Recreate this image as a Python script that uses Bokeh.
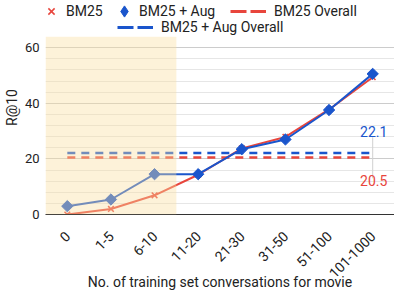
import math
from bokeh.plotting import figure
from bokeh.models import (FactorRange, Range1d, ColumnDataSource, BoxAnnotation,
                          Legend, LegendItem, FixedTicker)
from bokeh.core.properties import value
from bokeh.embed import file_html
from bokeh.resources import INLINE

# ---- data ----
categories = ["0", "1-5", "6-10", "11-20", "21-30", "31-50", "51-100", "101-1000"]
bm25 = [0.0, 2.0, 6.9, 14.3, 23.8, 27.9, 37.8, 49.4]
bm25_aug = [3.0, 5.4, 14.5, 14.5, 23.5, 27.0, 37.6, 50.6]
bm25_overall = 20.5
bm25_aug_overall = 22.1
shaded_categories = ["0", "1-5", "6-10"]
y_ticks = [0, 20, 40, 60]
y_minor_ticks = [4, 8, 12, 16, 24, 28, 32, 36, 44, 48, 52, 56]
y_max = 64

RED = "#e8453c"
BLUE = "#1a55cc"
FONT = "Roboto"
FIG_W, FIG_H = 394, 292
LEFT, BOTTOM = 44, 76
Y_TOP = 77            # extra room above the data area holds the legend
FB = FIG_H - BOTTOM   # frame bottom in screen px
px_per_unit = FB / Y_TOP

p = figure(width=FIG_W, height=FIG_H,
           x_range=FactorRange(*categories, range_padding=0),
           y_range=Range1d(0, Y_TOP),
           output_backend="svg", toolbar_location=None,
           min_border_top=0, min_border_left=LEFT, min_border_right=0,
           min_border_bottom=BOTTOM)
p.outline_line_color = None
p.background_fill_color = "white"

# grid
p.xgrid.grid_line_color = None
p.yaxis.ticker = FixedTicker(ticks=y_ticks, minor_ticks=y_minor_ticks)
p.yaxis.bounds = (0, y_max)
p.ygrid.grid_line_color = "#cccccc"
p.ygrid.minor_grid_line_color = "#e6e6e6"

# axes
for ax in (p.xaxis[0], p.yaxis[0]):
    ax.major_tick_line_color = None
    ax.minor_tick_line_color = None
    ax.major_label_text_font = FONT
    ax.major_label_text_font_size = "13px"
    ax.major_label_text_color = "#222222"
    ax.axis_label_text_font = FONT
    ax.axis_label_text_font_size = "14px"
    ax.axis_label_text_font_style = "normal"
    ax.axis_label_text_color = "#222222"
p.yaxis.axis_line_color = None
p.yaxis.axis_label = "R@10"
p.yaxis.major_label_standoff = 0
p.yaxis.axis_label_standoff = 2
p.xaxis.axis_line_color = "#333333"
p.xaxis.axis_label = "No. of training set conversations for movie"
p.xaxis.major_label_orientation = math.pi / 4
p.xaxis.major_label_text_font_size = "14px"
p.xaxis.major_label_standoff = 13
p.xaxis.axis_label_standoff = -12

src = ColumnDataSource(dict(cat=categories, bm25=bm25, aug=bm25_aug,
                            bm25_o=[bm25_overall] * len(categories),
                            aug_o=[bm25_aug_overall] * len(categories)))

# overall dashed lines
p.line("cat", "bm25_o", source=src, line_color=RED, line_width=2.5, line_dash="8 6")
p.line("cat", "aug_o", source=src, line_color=BLUE, line_width=2.5, line_dash="8 6")

# leader line and value labels at last category
last = categories[-1]
p.segment(x0=[last], x1=[last],
          y0=[bm25_aug_overall + 16 / px_per_unit],
          y1=[bm25_overall - 21 / px_per_unit],
          line_color="#d0d0d0", line_width=1)
lab = ColumnDataSource(dict(x=[last, last], y=[bm25_aug_overall, bm25_overall],
                            t=[f"{bm25_aug_overall:.1f}", f"{bm25_overall:.1f}"],
                            c=[BLUE, RED], yo=[-22, 23]))
p.text(x="x", y="y", text="t", text_color="c", y_offset="yo", x_offset=1, source=lab,
       text_align="center", text_baseline="middle",
       text_font=value(FONT), text_font_size="14px")

# series
p.line("cat", "bm25", source=src, line_color=RED, line_width=2)
r_b = p.scatter("cat", "bm25", source=src, marker="x", size=8, line_color=RED, line_width=1.5)
p.line("cat", "aug", source=src, line_color=BLUE, line_width=2)
p.scatter("cat", "aug", source=src, marker="square", angle=math.pi / 4, size=8,
          fill_color=BLUE, line_color=BLUE)

# shaded overlay over first categories (data area only)
p.add_layout(BoxAnnotation(right=len(shaded_categories), top=y_max, fill_color="#f9dea0",
                           fill_alpha=0.4, line_color=None, level="overlay"))

# legend-only glyphs (hidden in the plot, shown in the legend)
leg_aug = p.scatter("cat", "aug", source=src, marker="diamond", size=10,
                    fill_color=BLUE, line_color=BLUE, visible=False)
leg_bo = p.line("cat", "bm25_o", source=src, line_color=RED, line_width=3,
                line_dash="16 4", visible=False)
leg_ao = p.line("cat", "aug_o", source=src, line_color=BLUE, line_width=3,
                line_dash="16 4", visible=False)

def add_legend(label, rend, x_start, center_y, gw, gh, standoff):
    lg = Legend(items=[LegendItem(label=label, renderers=[rend])],
                location=(x_start - LEFT, FB - center_y - gh / 2),
                orientation="horizontal", padding=0, margin=0, spacing=0,
                glyph_width=gw, glyph_height=gh, label_height=16,
                label_standoff=standoff, border_line_color=None,
                background_fill_alpha=0, inactive_fill_alpha=0,
                label_text_font=FONT, label_text_font_size="14px",
                label_text_color="#222222")
    p.add_layout(lg, "center")

add_legend("BM25", r_b, 39, 13, 22, 24, 4)
add_legend("BM25 + Aug", leg_aug, 109, 13, 28, 28, 1)
add_legend("BM25 Overall", leg_bo, 229, 13, 36, 20, 8)
add_legend("BM25 + Aug Overall", leg_ao, 116, 29, 36, 20, 8)

open("out.html", "w").write(file_html(p, INLINE))
